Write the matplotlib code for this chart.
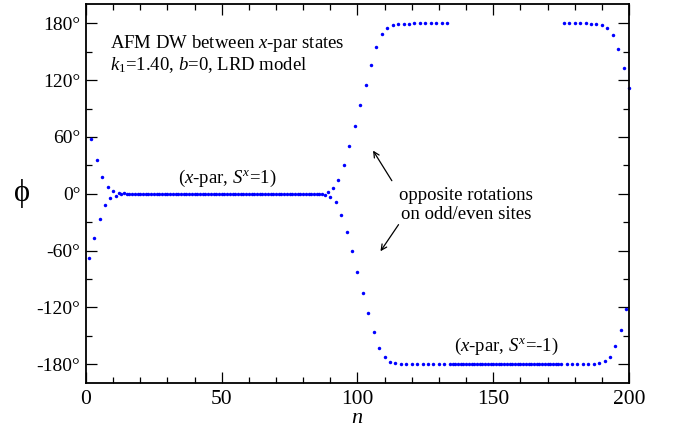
import matplotlib
matplotlib.use("Agg")
import matplotlib.pyplot as plt
from matplotlib.ticker import MultipleLocator

plt.rcParams['font.family'] = ['Liberation Serif', 'DejaVu Serif']
plt.rcParams['mathtext.fontset'] = 'custom'
plt.rcParams['mathtext.rm'] = 'Liberation Serif'
plt.rcParams['mathtext.it'] = 'Liberation Serif:italic'

# site index n = 1..200 and angle phi (degrees)
sites = list(range(1, 201))
phi = [
    -67.7, 58.0, -46.6, 36.1, -26.6, 18.2, -12.3, 7.4, -4.9, 2.4,
    -2.1, 1.0, -0.5, 0.3, -0.2, 0.1, 0.0, 0.0, 0.0, 0.0,
    0.0, 0.0, 0.0, 0.0, 0.0, 0.0, 0.0, 0.0, 0.0, 0.0,
    0.0, 0.0, 0.0, 0.0, 0.0, 0.0, 0.0, 0.0, 0.0, 0.0,
    0.0, 0.0, 0.0, 0.0, 0.0, 0.0, 0.0, 0.0, 0.0, 0.0,
    0.0, 0.0, 0.0, 0.0, 0.0, 0.0, 0.0, 0.0, 0.0, 0.0,
    0.0, 0.0, 0.0, 0.0, 0.0, 0.0, 0.0, 0.0, 0.0, 0.0,
    0.0, 0.0, 0.0, 0.0, 0.0, 0.0, 0.0, 0.0, 0.0, 0.0,
    0.0, 0.0, 0.0, 0.0, 0.1, 0.2, -0.5, -1.0, 1.8, -3.2,
    5.6, -9.1, 14.7, -22.1, 30.5, -40.0, 50.5, -61.0, 71.6, -82.8,
    93.3, -104.5, 115.1, -125.6, 136.5, -146.0, 155.0, -162.8, 168.7, -173.0,
    175.5, -177.5, 178.2, -179.0, 179.3, -179.6, 179.7, -179.8, 179.9, -180.0,
    180.0, -180.0, 180.0, -180.0, 180.0, -180.0, 180.0, -180.0, 180.0, -180.0,
    180.0, -180.0, 180.0, -180.0, -180.0, -180.0, -180.0, -180.0, -180.0, -180.0,
    -180.0, -180.0, -180.0, -180.0, -180.0, -180.0, -180.0, -180.0, -180.0, -180.0,
    -180.0, -180.0, -180.0, -180.0, -180.0, -180.0, -180.0, -180.0, -180.0, -180.0,
    -180.0, -180.0, -180.0, -180.0, -180.0, -180.0, -180.0, -180.0, -180.0, -180.0,
    -180.0, -180.0, -180.0, -180.0, -180.0, 180.0, -180.0, 180.0, -180.0, 180.0,
    -180.0, 180.0, -180.0, 180.0, -180.0, 179.6, -180.0, 179.0, -179.0, 178.2,
    -177.2, 175.1, -172.3, 167.7, -161.4, 153.4, -143.9, 133.4, -122.1, 111.6,
]

ytick_vals = [-180, -120, -60, 0, 60, 120, 180]
ytick_labels = ['-180°', '-120°', '-60°', '0°', '60°', '120°', '180°']
xtick_vals = [0, 50, 100, 150, 200]

fig = plt.figure(figsize=(6.78, 4.28), dpi=100)
ax = fig.add_axes([0.1268, 0.1051, 0.8009, 0.8844])

ax.plot(sites, phi, 'o', color='#0000ff', markersize=2.5, markeredgewidth=0, clip_on=False)

ax.set_xlim(0, 200)
ax.set_ylim(-200, 200)
ax.set_xticks(xtick_vals)
ax.set_yticks(ytick_vals)
ax.set_yticklabels(ytick_labels)
ax.xaxis.set_minor_locator(MultipleLocator(10))
ax.yaxis.set_minor_locator(MultipleLocator(30))
ax.tick_params(which='both', direction='in', top=True, right=True, width=0.9)
ax.tick_params(which='major', length=8)
ax.tick_params(which='minor', length=4)
ax.tick_params(axis='x', labelsize=15.5, pad=5)
ax.tick_params(axis='y', labelsize=14, pad=4)
for s in ax.spines.values():
    s.set_linewidth(1.3)

ax.set_xlabel('$n$', fontsize=16)
ax.xaxis.set_label_coords(0.5, -0.068)
ax.set_ylabel('ϕ', fontsize=22, rotation=0, va='center', ha='center')
ax.yaxis.set_label_coords(-0.118, 0.5)

ax.text(0.044, 0.925, 'AFM DW between $x$-par states', transform=ax.transAxes,
        fontsize=13.5, va='top')
ax.text(0.044, 0.865, '$k_1$=1.40, $b$=0, LRD model', transform=ax.transAxes,
        fontsize=13.5, va='top')
ax.text(52, 5, '($x$-par, $S^x$=1)', fontsize=13.5, ha='center', va='bottom')
ax.text(155, -173, '($x$-par, $S^x$=-1)', fontsize=13.5, ha='center', va='bottom')
ax.text(140, -12, 'opposite rotations\non odd/even sites', fontsize=13.5,
        ha='center', va='center', multialignment='center', linespacing=1.1)

ax.annotate('', xy=(105.2, 48.1), xytext=(113.2, 11.3),
            arrowprops=dict(arrowstyle='->', color='black', lw=0.9))
ax.annotate('', xy=(107.9, -63.2), xytext=(115.7, -30.2),
            arrowprops=dict(arrowstyle='->', color='black', lw=0.9))

fig.savefig('out.png', dpi=100)
